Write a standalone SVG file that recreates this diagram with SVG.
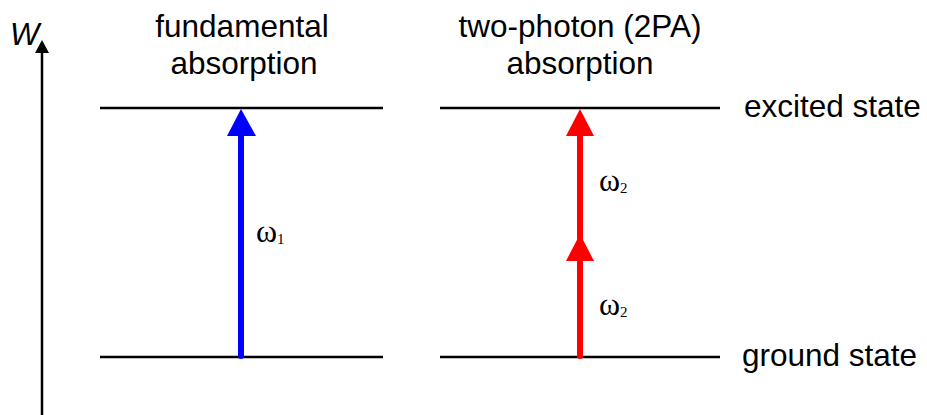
<svg xmlns="http://www.w3.org/2000/svg" width="927" height="415" viewBox="0 0 927 415">
<defs>
<style>
.lvl{stroke:#000;stroke-width:2.5;fill:none}
.t{font-family:"Liberation Sans",Arial,sans-serif;fill:#000}
.w{font-family:"Liberation Serif","Times New Roman",serif;fill:#000;font-size:32px}
.s{font-size:15px}
</style>
</defs>
<rect width="927" height="415" fill="#fff"/>
<g id="axis">
<line x1="42" y1="415" x2="42" y2="52" stroke="#000" stroke-width="2.5"/>
<polygon points="42,40 35,53 49,53" fill="#000"/>
<text class="t" x="10" y="45" font-size="31" font-style="italic">W</text>
</g>
<g id="titles">
<text class="t" x="242" y="37" font-size="31.5" text-anchor="middle">fundamental</text>
<text class="t" x="244" y="74" font-size="31.5" text-anchor="middle">absorption</text>
<text class="t" x="580" y="37" font-size="31.5" text-anchor="middle">two-photon (2PA)</text>
<text class="t" x="580" y="74" font-size="31.5" text-anchor="middle">absorption</text>
</g>
<g id="excited-state">
<line class="lvl" x1="100" y1="108" x2="383" y2="108"/>
<line class="lvl" x1="440" y1="108" x2="720" y2="108"/>
<text class="t" x="744" y="117" font-size="31.5">excited state</text>
</g>
<g id="ground-state">
<line class="lvl" x1="100" y1="357" x2="383" y2="357"/>
<line class="lvl" x1="440" y1="357" x2="720" y2="357"/>
<text class="t" x="742" y="366" font-size="31.5">ground state</text>
</g>
<g id="connectors">
<g id="fundamental-arrow">
<line x1="241" y1="356" x2="241" y2="132" stroke="#0000ff" stroke-width="6" stroke-linecap="round"/>
<polygon points="241,109 227,136 256,136" fill="#0000ff"/>
</g>
<g id="2pa-arrow-lower">
<line x1="580" y1="356" x2="580" y2="258" stroke="#ff0000" stroke-width="6" stroke-linecap="round"/>
<polygon points="580,234 566,261 594,261" fill="#ff0000"/>
</g>
<g id="2pa-arrow-upper">
<line x1="580" y1="238" x2="580" y2="132" stroke="#ff0000" stroke-width="6" stroke-linecap="round"/>
<polygon points="580,109 566,136 594,136" fill="#ff0000"/>
</g>
</g>
<g id="labels">
<text class="w" x="256" y="242">ω<tspan class="s" dy="2">1</tspan></text>
<text class="w" x="599" y="191">ω<tspan class="s" dy="2">2</tspan></text>
<text class="w" x="599" y="315">ω<tspan class="s" dy="2">2</tspan></text>
</g>
</svg>
